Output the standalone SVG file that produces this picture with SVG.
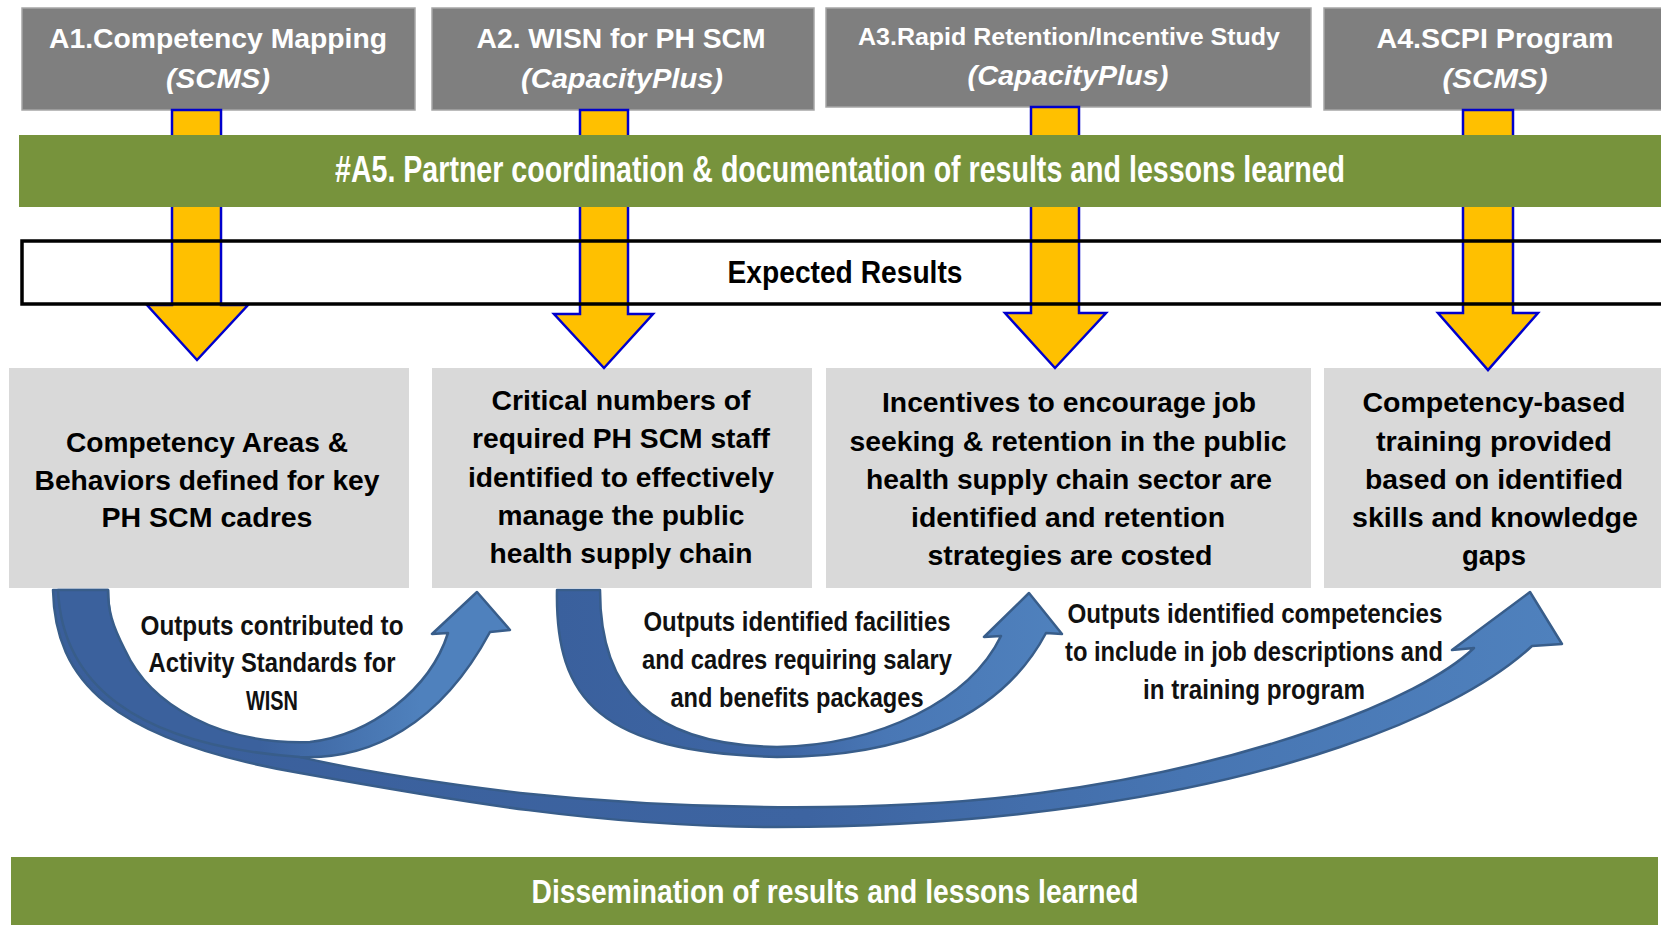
<svg xmlns="http://www.w3.org/2000/svg" width="1661" height="925" viewBox="0 0 1661 925">
<defs>
<style>
.top{fill:#7F7F7F;stroke:#A6A6A6;stroke-width:1.5}
.res{fill:#D9D9D9}
.band{fill:#77933C}
.tw{font-family:"Liberation Sans",Arial,sans-serif;font-weight:bold;fill:#FFFFFF;text-anchor:middle}
.tb{font-family:"Liberation Sans",Arial,sans-serif;font-weight:bold;fill:#000000;text-anchor:middle}
.it{font-style:italic}
.ya{fill:#FFC000;stroke:#0000CC;stroke-width:2.5;stroke-linejoin:miter}
.ca{stroke:#385D8A;stroke-width:2.5;stroke-linejoin:round}
.lbl{font-family:"Liberation Sans",Arial,sans-serif;font-weight:bold;fill:#111111;text-anchor:middle;font-size:27px}
.rt{font-size:28px}
</style>
<linearGradient id="gBig" gradientUnits="userSpaceOnUse" x1="53" y1="0" x2="1562" y2="0">
<stop offset="0" stop-color="#3A5F9B"/>
<stop offset="0.5" stop-color="#3D64A1"/>
<stop offset="0.75" stop-color="#4775B2"/>
<stop offset="1" stop-color="#4F81BD"/>
</linearGradient>
<linearGradient id="gSmall" gradientUnits="userSpaceOnUse" x1="260" y1="0" x2="420" y2="0">
<stop offset="0" stop-color="#3B619D"/>
<stop offset="1" stop-color="#4F81BD"/>
</linearGradient>
<linearGradient id="gMid" gradientUnits="userSpaceOnUse" x1="557" y1="0" x2="1062" y2="0">
<stop offset="0" stop-color="#3A609D"/>
<stop offset="0.45" stop-color="#3E66A4"/>
<stop offset="0.65" stop-color="#4977B5"/>
<stop offset="1" stop-color="#4F81BD"/>
</linearGradient>
</defs>
<rect width="1661" height="925" fill="#FFFFFF"/>

<g id="A1">
<rect class="top" x="22" y="8" width="393" height="102"/>
<text class="tw" x="218" y="48" font-size="28" textLength="338" lengthAdjust="spacingAndGlyphs">A1.Competency Mapping</text>
<text class="tw it" x="218" y="88" font-size="28" textLength="104" lengthAdjust="spacingAndGlyphs">(SCMS)</text>
</g>
<g id="A2">
<rect class="top" x="432" y="8" width="382" height="102"/>
<text class="tw" x="621" y="48" font-size="28" textLength="289" lengthAdjust="spacingAndGlyphs">A2. WISN  for PH SCM</text>
<text class="tw it" x="622" y="88" font-size="28" textLength="202" lengthAdjust="spacingAndGlyphs">(CapacityPlus)</text>
</g>
<g id="A3">
<rect class="top" x="826" y="8" width="485" height="99"/>
<text class="tw" x="1069" y="45" font-size="24" textLength="422" lengthAdjust="spacingAndGlyphs">A3.Rapid  Retention/Incentive  Study</text>
<text class="tw it" x="1068" y="85" font-size="28" textLength="201" lengthAdjust="spacingAndGlyphs">(CapacityPlus)</text>
</g>
<g id="A4">
<rect class="top" x="1324" y="8" width="345" height="102"/>
<text class="tw" x="1495" y="48" font-size="28" textLength="237" lengthAdjust="spacingAndGlyphs">A4.SCPI Program</text>
<text class="tw it" x="1495" y="88" font-size="28" textLength="105" lengthAdjust="spacingAndGlyphs">(SCMS)</text>
</g>

<g id="R1">
<rect class="res" x="9" y="368" width="400" height="220"/>
<text class="tb rt" x="207" y="452" textLength="282" lengthAdjust="spacingAndGlyphs">Competency Areas &amp;</text>
<text class="tb rt" x="207" y="490" textLength="345" lengthAdjust="spacingAndGlyphs">Behaviors defined for key</text>
<text class="tb rt" x="207" y="527" textLength="211" lengthAdjust="spacingAndGlyphs">PH SCM cadres</text>
</g>
<g id="R2">
<rect class="res" x="432" y="368" width="380" height="220"/>
<text class="tb rt" x="621" y="410" textLength="259" lengthAdjust="spacingAndGlyphs">Critical numbers of</text>
<text class="tb rt" x="621" y="448" textLength="298" lengthAdjust="spacingAndGlyphs">required PH SCM staff</text>
<text class="tb rt" x="621" y="487" textLength="306" lengthAdjust="spacingAndGlyphs">identified to effectively</text>
<text class="tb rt" x="621" y="525" textLength="247" lengthAdjust="spacingAndGlyphs">manage the public</text>
<text class="tb rt" x="621" y="563" textLength="263" lengthAdjust="spacingAndGlyphs">health supply chain</text>
</g>
<g id="R3">
<rect class="res" x="826" y="368" width="485" height="220"/>
<text class="tb rt" x="1069" y="412" textLength="374" lengthAdjust="spacingAndGlyphs">Incentives to encourage job</text>
<text class="tb rt" x="1068" y="451" textLength="437" lengthAdjust="spacingAndGlyphs">seeking &amp; retention in the public</text>
<text class="tb rt" x="1069" y="489" textLength="406" lengthAdjust="spacingAndGlyphs">health supply chain sector are</text>
<text class="tb rt" x="1068" y="527" textLength="314" lengthAdjust="spacingAndGlyphs">identified and retention</text>
<text class="tb rt" x="1070" y="565" textLength="285" lengthAdjust="spacingAndGlyphs">strategies are costed</text>
</g>
<g id="R4">
<rect class="res" x="1324" y="368" width="345" height="220"/>
<text class="tb rt" x="1494" y="412" textLength="263" lengthAdjust="spacingAndGlyphs">Competency-based</text>
<text class="tb rt" x="1494" y="451" textLength="236" lengthAdjust="spacingAndGlyphs">training provided</text>
<text class="tb rt" x="1494" y="489" textLength="258" lengthAdjust="spacingAndGlyphs">based on identified</text>
<text class="tb rt" x="1495" y="527" textLength="286" lengthAdjust="spacingAndGlyphs">skills and knowledge</text>
<text class="tb rt" x="1494" y="565" textLength="64" lengthAdjust="spacingAndGlyphs">gaps</text>
</g>

<g id="connectors">
<path class="ya" d="M172,110 L221,110 L221,305 L248,305 L197,360 L147,305 L172,305 Z"/>
<path class="ya" d="M580,110 L628,110 L628,314 L653,314 L604,368 L554,314 L580,314 Z"/>
<path class="ya" d="M1031,107 L1079,107 L1079,313 L1106,313 L1055,368 L1005,313 L1031,313 Z"/>
<path class="ya" d="M1463,110 L1513,110 L1513,313 L1538,313 L1488,370 L1438,313 L1463,313 Z"/>

<path id="c-a1-a4" class="ca" fill="url(#gBig)" d="M53,590 C55,680 110,740 300,773 C450,800 600,827 777,827 C1000,827 1200,795 1340,747 C1420,720 1490,685 1532,646 L1562,644 L1530,592 L1452,650 L1474,648 C1420,700 1250,765 1040,793 C900,812 700,812 520,793 C330,770 180,740 140,680 C115,645 108,620 108,590 Z"/>
<path id="c-a1-a2" class="ca" fill="url(#gSmall)" d="M58,590 C62,680 130,745 300,757 C370,760 440,725 490,632 L510,630 L477,592 L432,634 L448,633 C430,690 370,735 310,742 C220,745 150,705 125,650 C112,625 108,610 108,590 Z"/>
<path id="c-a2-a3" class="ca" fill="url(#gMid)" d="M557,590 C555,700 600,752 777,757 C900,757 1000,720 1046,633 L1062,634 L1029,593 L984,637 L1001,636 C970,700 880,745 777,747 C650,745 600,690 600,590 Z"/>

<text class="lbl" x="272" y="635" textLength="263" lengthAdjust="spacingAndGlyphs">Outputs contributed to</text>
<text class="lbl" x="272" y="672" textLength="247" lengthAdjust="spacingAndGlyphs">Activity Standards for</text>
<text class="lbl" x="272" y="710" textLength="52" lengthAdjust="spacingAndGlyphs">WISN</text>

<text class="lbl" x="797" y="631" textLength="307" lengthAdjust="spacingAndGlyphs">Outputs identified  facilities</text>
<text class="lbl" x="797" y="669" textLength="310" lengthAdjust="spacingAndGlyphs">and cadres requiring salary</text>
<text class="lbl" x="797" y="707" textLength="253" lengthAdjust="spacingAndGlyphs">and benefits packages</text>

<text class="lbl" x="1255" y="623" textLength="375" lengthAdjust="spacingAndGlyphs">Outputs identified  competencies</text>
<text class="lbl" x="1254" y="661" textLength="378" lengthAdjust="spacingAndGlyphs">to include in job descriptions and</text>
<text class="lbl" x="1254" y="699" textLength="222" lengthAdjust="spacingAndGlyphs">in training program</text>
</g>

<g id="A5">
<rect class="band" x="19" y="135" width="1650" height="72"/>
<text class="tw" x="840" y="182" font-size="36" textLength="1010" lengthAdjust="spacingAndGlyphs">#A5. Partner coordination &amp; documentation of results and lessons learned</text>
</g>

<g id="expected-results">
<rect x="22" y="241" width="1670" height="63" fill="none" stroke="#000000" stroke-width="3.5"/>
<text class="tb" x="845" y="283" font-size="32" textLength="235" lengthAdjust="spacingAndGlyphs">Expected Results</text>
</g>

<g id="dissemination">
<rect class="band" x="11" y="857" width="1647" height="68"/>
<text class="tw" x="835" y="903" font-size="34" textLength="607" lengthAdjust="spacingAndGlyphs">Dissemination of results and lessons learned</text>
</g>
</svg>
